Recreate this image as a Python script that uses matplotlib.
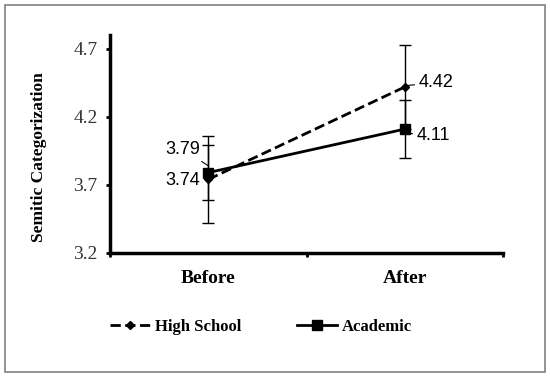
import matplotlib.pyplot as plt
from matplotlib.patches import Rectangle
from matplotlib.lines import Line2D

# data
times = ["Before", "After"]
high_school = [3.74, 4.42]
high_school_err = [0.32, 0.31]
academic = [3.79, 4.11]
academic_err = [0.20, 0.21]
y_ticks = [3.2, 3.7, 4.2, 4.7]

serif = "Liberation Serif"
sans = "Liberation Sans"

fig = plt.figure(figsize=(5.5, 3.78), dpi=100)
ax = fig.add_axes([0.2, 0.331, 0.715, 0.576])

# outer frame
fig.patches.append(Rectangle((0.009, 0.016), 0.982, 0.970, transform=fig.transFigure,
                             fill=False, edgecolor="#808080", linewidth=1.2))

x = [0.5, 1.5]
ax.errorbar(x, high_school, yerr=high_school_err, color="black", linestyle="--",
            linewidth=2, marker="D", markersize=4, capsize=4, elinewidth=1,
            capthick=1, zorder=3)
ax.errorbar(x, academic, yerr=academic_err, color="black", linestyle="-",
            linewidth=2, marker="s", markersize=7, capsize=4, elinewidth=1,
            capthick=1, zorder=3)

# value labels
lab = dict(fontsize=13, family=sans, va="center",
           arrowprops=dict(arrowstyle="-", lw=0.8, shrinkA=1, shrinkB=0))
ax.annotate(f"{academic[0]:.2f}", xy=(x[0], academic[0] + 0.05), xytext=(x[0] - 0.04, 3.96),
            ha="right", **lab)
ax.annotate(f"{high_school[0]:.2f}", xy=(x[0], high_school[0] + 0.01), xytext=(x[0] - 0.04, 3.73),
            ha="right", **lab)
ax.annotate(f"{high_school[1]:.2f}", xy=(x[1] + 0.01, high_school[1] + 0.01), xytext=(x[1] + 0.07, 4.45),
            ha="left", **lab)
ax.annotate(f"{academic[1]:.2f}", xy=(x[1] + 0.01, academic[1] - 0.03), xytext=(x[1] + 0.06, 4.06),
            ha="left", **lab)

ax.set_xlim(0, 2)
ax.set_ylim(3.2, 4.8)
ax.set_yticks(y_ticks)
ax.set_yticklabels([f"{v:.1f}" for v in y_ticks], family=serif, fontsize=14, color="#333333")
ax.set_xticks([0, 1, 2])
ax.set_xticklabels([])
ax.set_xticks(x, minor=True)
ax.set_xticklabels(times, minor=True, family=serif, fontsize=14, fontweight="bold")
ax.tick_params(axis="x", which="minor", length=0, pad=12)
ax.tick_params(axis="x", which="major", direction="out", length=3, width=2)
ax.tick_params(axis="y", direction="out", length=3, width=2, pad=6)

for side in ["top", "right"]:
    ax.spines[side].set_visible(False)
for side in ["left", "bottom"]:
    ax.spines[side].set_linewidth(2.5)

ax.set_ylabel("Semitic Categorization", family=serif, fontsize=12.5, fontweight="bold")
ax.yaxis.set_label_coords(-0.16, 0.44)

handles = [
    Line2D([], [], color="black", linestyle="--", linewidth=2, marker="D", markersize=4),
    Line2D([], [], color="black", linestyle="-", linewidth=2, marker="s", markersize=7),
]
fig.legend(handles, ["High School", "Academic"], loc="center", bbox_to_anchor=(0.475, 0.135),
           ncol=2, frameon=False, prop=dict(family=serif, weight="bold", size=12),
           handlelength=2.4, columnspacing=3.3, handletextpad=0.3)

fig.savefig("out.png", dpi=100)
